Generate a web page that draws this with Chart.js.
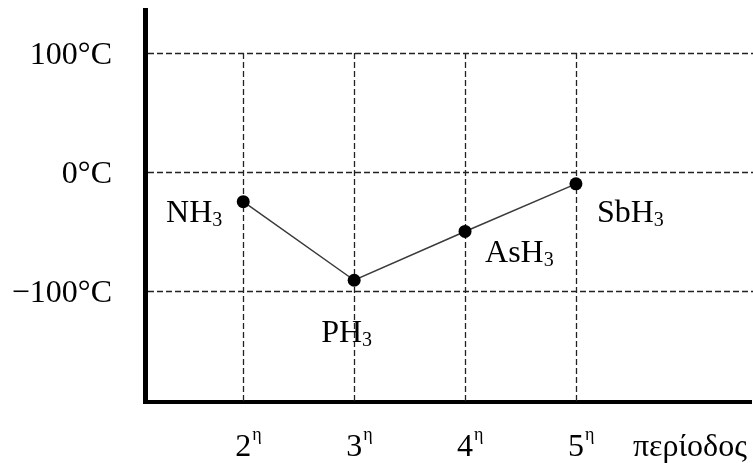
<!DOCTYPE html>
<html><head><meta charset="utf-8">
<script src="https://cdn.jsdelivr.net/npm/chart.js@4.4.0/dist/chart.umd.min.js"></script>
<style>html,body{margin:0;padding:0;background:#fff}canvas{display:block}</style>
</head><body>
<canvas id="c" width="753" height="463"></canvas>
<script>
// ---- data ----
const periods = [2, 3, 4, 5];
const periodLabels = ['2', '3', '4', '5'];
const periodSup = 'η';
const compounds = ['NH3', 'PH3', 'AsH3', 'SbH3'];
const boilingPoints = [-25, -91, -50, -10];
const yTicks = [-100, 0, 100];
const xTitle = 'περίοδος';

// ---- styling / label placement ----
const FONT = '"Liberation Serif", "Times New Roman", serif';
const labelPlace = [
  {dx: -21, dy: 20, align: 'right'},
  {dx: -33, dy: 62, align: 'left'},
  {dx: 20, dy: 31, align: 'left'},
  {dx: 21, dy: 38, align: 'left'}
];
const yTickLabel = v => (v < 0 ? '\u2212' : '') + Math.abs(v) + '°C';

function drawSub(ctx, text, x, y, align) {
  const m = text.match(/^(.*?)(\d+)$/);
  const main = m ? m[1] : text, sub = m ? m[2] : '';
  ctx.font = '32px ' + FONT;
  const wm = ctx.measureText(main).width;
  ctx.font = '20px ' + FONT;
  const ws = ctx.measureText(sub).width;
  let x0 = align === 'right' ? x - wm - ws : x;
  ctx.textAlign = 'left';
  ctx.textBaseline = 'alphabetic';
  ctx.font = '32px ' + FONT;
  ctx.fillText(main, x0, y);
  ctx.font = '20px ' + FONT;
  ctx.fillText(sub, x0 + wm, y + 4);
}

const textPlugin = {
  id: 'texts',
  beforeDatasetsDraw(chart) {
    const {ctx} = chart;
    const xs = chart.scales.x, ys = chart.scales.y;
    ctx.save();
    ctx.strokeStyle = '#222';
    ctx.lineWidth = 1.3;
    ctx.setLineDash([6, 3]);
    // horizontal dashed grid at the y ticks
    yTicks.forEach(v => {
      const py = Math.round(ys.getPixelForValue(v)) + 0.5;
      ctx.beginPath();
      ctx.moveTo(xs.left + 3, py);
      ctx.lineTo(chart.width, py);
      ctx.stroke();
    });
    // vertical dashed lines at each period, from the top tick down to the axis
    const top = ys.getPixelForValue(yTicks[yTicks.length - 1]);
    periods.forEach(p => {
      const px = Math.round(xs.getPixelForValue(p)) + 0.5;
      ctx.beginPath();
      ctx.moveTo(px, top);
      ctx.lineTo(px, ys.bottom);
      ctx.stroke();
    });
    ctx.restore();
  },
  afterDraw(chart) {
    const {ctx} = chart;
    const xs = chart.scales.x, ys = chart.scales.y;
    ctx.save();
    ctx.fillStyle = '#000';
    // y tick labels
    ctx.font = '32px ' + FONT;
    ctx.textAlign = 'right';
    ctx.textBaseline = 'alphabetic';
    yTicks.forEach(v => {
      ctx.fillText(yTickLabel(v), xs.left - 33, ys.getPixelForValue(v) + 11);
    });
    // x tick labels with superscript
    const base = xs.bottom + 54;
    periods.forEach((p, i) => {
      const px = xs.getPixelForValue(p);
      ctx.font = '32px ' + FONT;
      ctx.textAlign = 'center';
      ctx.textBaseline = 'alphabetic';
      ctx.fillText(periodLabels[i], px, base);
      const w = ctx.measureText(periodLabels[i]).width;
      ctx.font = '18px ' + FONT;
      ctx.textAlign = 'left';
      ctx.fillText(periodSup, px + w / 2 + 1, base - 16);
    });
    // axis title
    ctx.font = '32px ' + FONT;
    ctx.textAlign = 'left';
    ctx.fillText(xTitle, xs.getPixelForValue(periods[periods.length - 1]) + 57, base);
    // point labels
    const meta = chart.getDatasetMeta(0);
    meta.data.forEach((pt, i) => {
      const lp = labelPlace[i];
      drawSub(ctx, compounds[i], pt.x + lp.dx, pt.y + lp.dy, lp.align);
    });
    ctx.restore();
  }
};

new Chart(document.getElementById('c').getContext('2d'), {
  type: 'scatter',
  data: {
    datasets: [{
      data: periods.map((p, i) => ({x: p, y: boilingPoints[i]})),
      showLine: true,
      borderColor: '#3a3a3a',
      borderWidth: 1.5,
      pointRadius: 6.5,
      pointBackgroundColor: '#000',
      pointBorderColor: '#000',
      pointBorderWidth: 0
    }]
  },
  options: {
    responsive: false,
    animation: false,
    events: [],
    layout: {padding: {left: 145, right: 0, top: 10, bottom: 61}},
    plugins: {legend: {display: false}, tooltip: {enabled: false}},
    scales: {
      x: {
        type: 'linear', min: 1.114, max: 6.538,
        grid: {display: false, lineWidth: 10},
        ticks: {display: false},
        border: {display: true, width: 4, color: '#000'},
        afterFit: s => { s.height = 0; }
      },
      y: {
        min: -193.3, max: 136.1,
        afterBuildTicks: s => { s.ticks = yTicks.map(v => ({value: v})); },
        ticks: {display: false},
        grid: {display: false},
        border: {display: true, width: 5, color: '#000'},
        afterFit: s => { s.width = 0; }
      }
    }
  },
  plugins: [textPlugin]
});
</script>
</body></html>
